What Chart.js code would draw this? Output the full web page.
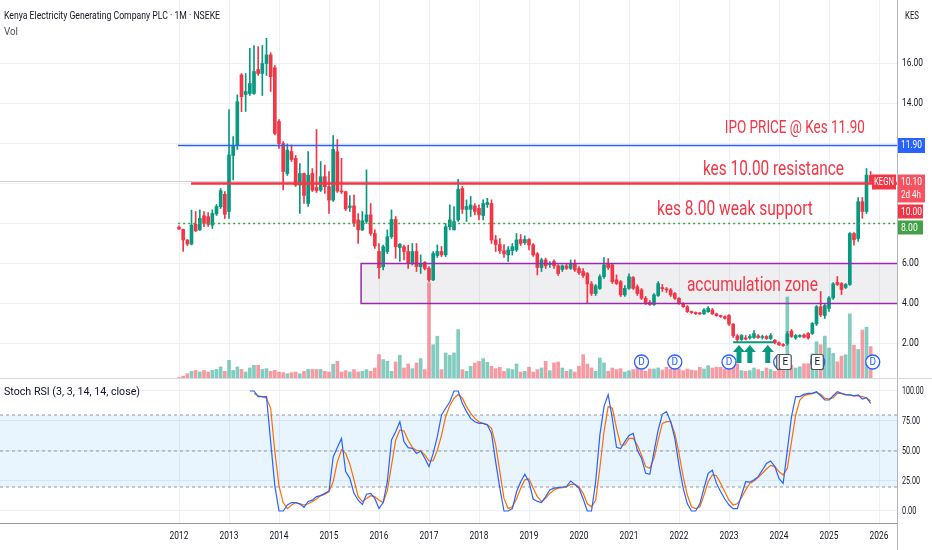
<!DOCTYPE html>
<html>
<head>
<meta charset="utf-8">
<title>KEGN 1M</title>
<script src="https://cdn.jsdelivr.net/npm/chart.js@4.4.1/dist/chart.umd.min.js"></script>
<style>
  html, body { margin: 0; padding: 0; background: #ffffff; }
  #wrap { position: relative; width: 932px; height: 550px; overflow: hidden; }
  canvas { position: absolute; left: 0; }
  #priceChart { top: 0; }
  #stochChart { top: 378px; }
</style>
</head>
<body>
<div id="wrap">
  <canvas id="priceChart" width="932" height="378"></canvas>
  <canvas id="stochChart" width="932" height="172"></canvas>
</div>
<script>
'use strict';

// monthly candles, first one is Jan 2012 (index 0), one row per year
const firstYear = 2012;
const yearTicks = [2012, 2013, 2014, 2015, 2016, 2017, 2018, 2019, 2020, 2021, 2022, 2023, 2024, 2025, 2026];

const opens = [
  7.82, 7.70, 7.17, 6.97, 7.96, 7.68, 8.39, 8.34, 7.92, 8.48, 8.84, 9.46,
  8.60, 11.40, 11.92, 15.43, 14.45, 14.50, 14.50, 15.70, 15.50, 16.00, 16.43, 15.79,
  13.10, 12.00, 10.50, 11.60, 11.26, 9.92, 10.50, 9.00, 10.50, 9.80, 9.67, 10.34,
  9.84, 9.17, 11.59, 9.62, 9.59, 8.80, 8.88, 8.18, 7.68, 8.10, 8.43, 7.50,
  6.60, 5.84, 6.60, 7.34, 8.20, 6.80, 6.84, 6.60, 6.00, 6.60, 5.84, 6.05,
  5.76, 5.18, 6.40, 6.60, 6.43, 7.84, 7.68, 8.18, 9.75, 8.70, 8.71, 8.88,
  8.76, 8.40, 8.95, 9.00, 7.18, 6.95, 6.64, 6.43, 6.64, 6.68, 7.20, 7.04,
  7.20, 6.93, 6.48, 5.80, 6.18, 5.95, 6.10, 5.88, 5.70, 5.88, 5.76, 6.00,
  5.75, 5.60, 5.50, 4.98, 4.50, 4.75, 5.34, 6.00, 5.93, 5.18, 5.09, 4.43,
  4.76, 5.30, 4.84, 4.68, 4.26, 4.05, 3.95, 4.40, 4.80, 4.72, 4.68, 4.50,
  4.26, 4.00, 3.84, 3.58, 3.52, 3.50, 3.48, 3.59, 3.68, 3.48, 3.39, 3.34,
  3.40, 2.97, 2.38, 2.20, 2.28, 2.28, 2.30, 2.38, 2.30, 2.35, 2.25, 2.17,
  2.04, 1.95, 2.00, 2.62, 2.28, 2.35, 2.42, 2.50, 2.50, 2.98, 3.84, 3.40,
  3.75, 4.28, 5.05, 5.00, 4.80, 4.95, 7.50, 7.25, 9.09, 8.60, 10.40
];
const highs = [
  7.88, 7.72, 7.20, 8.67, 8.60, 8.68, 8.60, 8.55, 8.68, 8.95, 9.75, 9.60,
  13.70, 12.34, 14.43, 15.50, 15.50, 16.76, 16.90, 16.84, 16.90, 17.26, 16.54, 15.90,
  13.20, 12.10, 11.98, 11.93, 11.40, 11.00, 10.52, 11.60, 10.75, 12.70, 11.10, 10.92,
  10.60, 12.40, 12.20, 11.26, 9.62, 9.40, 9.43, 8.50, 8.60, 10.68, 9.00, 7.68,
  7.00, 6.92, 7.68, 8.68, 8.35, 7.00, 6.92, 6.92, 7.00, 7.00, 6.43, 6.10,
  5.85, 6.60, 6.93, 6.85, 8.00, 8.93, 8.84, 10.21, 9.85, 9.18, 9.35, 9.00,
  8.93, 9.18, 9.26, 9.18, 7.40, 7.25, 6.95, 6.85, 7.00, 7.50, 7.45, 7.38,
  7.25, 7.00, 6.55, 6.27, 6.27, 6.10, 6.18, 5.95, 5.93, 6.00, 6.18, 6.18,
  5.85, 5.75, 5.55, 5.10, 4.95, 5.43, 6.30, 6.25, 6.00, 5.43, 5.15, 4.90,
  5.48, 5.35, 4.93, 4.75, 4.35, 4.15, 4.50, 5.10, 4.95, 4.80, 4.75, 4.55,
  4.30, 4.05, 3.90, 3.62, 3.58, 3.56, 3.75, 3.85, 3.75, 3.52, 3.42, 3.38,
  3.45, 3.00, 2.45, 2.45, 2.40, 2.45, 2.65, 2.45, 2.42, 2.40, 2.50, 2.20,
  2.08, 2.00, 2.60, 2.70, 2.45, 2.45, 2.48, 2.55, 3.05, 3.90, 4.60, 4.00,
  4.35, 5.05, 5.35, 5.05, 5.00, 7.55, 7.55, 9.30, 9.30, 10.75, 10.60
];
const lows = [
  7.70, 6.60, 6.90, 6.93, 7.60, 7.65, 7.84, 7.85, 7.75, 8.40, 8.75, 8.26,
  8.26, 10.18, 11.70, 13.59, 13.60, 14.40, 14.45, 15.40, 14.40, 15.40, 14.60, 12.43,
  11.75, 9.68, 10.40, 11.10, 9.85, 8.50, 9.00, 8.85, 9.60, 9.55, 9.60, 9.50,
  8.50, 9.10, 9.55, 9.50, 8.65, 8.60, 7.85, 7.00, 7.65, 8.00, 7.40, 6.75,
  5.26, 5.68, 6.50, 7.25, 6.26, 6.10, 6.18, 5.75, 5.92, 5.60, 5.50, 5.68,
  5.09, 5.14, 6.30, 6.35, 6.35, 7.68, 7.68, 8.10, 8.50, 8.10, 8.35, 8.43,
  8.18, 8.18, 8.80, 7.00, 6.60, 6.50, 6.30, 6.10, 6.42, 6.60, 6.90, 6.95,
  6.68, 6.35, 5.43, 5.60, 5.75, 5.80, 5.75, 5.40, 5.60, 5.70, 5.70, 5.60,
  5.45, 5.30, 4.04, 4.40, 4.40, 4.70, 5.25, 5.70, 5.00, 4.95, 4.35, 4.35,
  4.70, 4.70, 4.40, 4.20, 3.95, 3.90, 3.90, 4.35, 4.60, 4.55, 4.35, 4.20,
  3.95, 3.80, 3.55, 3.50, 3.45, 3.45, 3.45, 3.55, 3.45, 3.36, 3.30, 3.22,
  2.90, 2.30, 2.10, 2.15, 2.18, 2.22, 2.25, 2.25, 2.22, 2.20, 2.20, 1.98,
  1.90, 1.85, 1.92, 2.30, 2.20, 2.30, 2.28, 2.22, 2.45, 2.90, 3.35, 3.25,
  3.60, 4.20, 4.90, 4.45, 4.75, 4.90, 6.92, 7.10, 8.26, 8.50, 10.00
];
const closes = [
  7.72, 7.18, 6.97, 7.92, 7.63, 8.26, 8.00, 7.96, 8.50, 8.85, 9.64, 8.46,
  11.43, 11.90, 14.09, 14.34, 14.60, 15.00, 15.60, 15.50, 16.00, 16.43, 15.34, 12.50,
  12.00, 10.60, 11.67, 11.20, 9.92, 10.50, 9.40, 10.42, 9.67, 9.64, 10.34, 9.84,
  9.17, 11.70, 9.62, 9.58, 8.73, 8.88, 8.01, 7.68, 8.14, 8.43, 7.50, 6.88,
  5.79, 6.84, 7.34, 8.20, 6.84, 6.97, 6.60, 6.00, 6.60, 5.84, 6.00, 5.75,
  5.18, 6.50, 6.60, 6.43, 7.84, 8.18, 8.10, 9.71, 8.71, 8.85, 8.93, 8.60,
  8.43, 9.00, 9.05, 7.18, 6.95, 6.64, 6.48, 6.68, 6.84, 7.18, 7.00, 7.20,
  6.93, 6.43, 5.80, 6.18, 5.88, 6.00, 5.88, 5.50, 5.88, 5.76, 6.00, 5.68,
  5.54, 5.40, 4.98, 4.50, 4.88, 5.34, 5.93, 5.80, 5.09, 5.00, 4.43, 4.76,
  5.34, 4.76, 4.50, 4.26, 4.00, 3.95, 4.43, 5.00, 4.74, 4.68, 4.43, 4.26,
  4.00, 3.84, 3.59, 3.55, 3.50, 3.48, 3.68, 3.76, 3.48, 3.39, 3.35, 3.26,
  2.97, 2.40, 2.20, 2.40, 2.22, 2.35, 2.50, 2.30, 2.33, 2.25, 2.40, 2.04,
  1.93, 1.90, 2.48, 2.35, 2.40, 2.38, 2.32, 2.28, 3.00, 3.84, 3.43, 3.90,
  4.28, 4.98, 4.95, 4.70, 4.95, 7.50, 7.18, 9.09, 8.60, 10.42, 10.10
];
// volume, relative units (Jan 2017 spike = 100)
const volumes = [
  0.5, 2, 4.5, 7, 8, 6.3, 8, 6.3, 8, 9, 11.6, 7,
  18.6, 8, 11.6, 9, 6.3, 10.5, 13.3, 13.3, 9, 9.8, 7, 8,
  6.3, 5.6, 4.5, 5.6, 6.3, 4.5, 7, 9, 9, 9, 9, 7,
  6.3, 14.5, 17.5, 6.3, 7.7, 6.3, 8.8, 6.3, 7, 8.8, 7, 10.5,
  24.6, 19.3, 17.5, 7, 16.8, 23.9, 10.5, 14.7, 9.8, 15.8, 20.4, 8.8,
  100, 35, 43.9, 8.8, 26.3, 23.9, 26.3, 50.9, 8.8, 7, 12.3, 15.8,
  17.5, 20.4, 16.5, 12.3, 9.8, 11.3, 7, 9.8, 8.8, 14.7, 6.3, 7,
  11.3, 6.3, 8.8, 10.5, 17.5, 7.7, 15.8, 16.8, 10.5, 7, 8.8, 6.3,
  12.3, 24.5, 14.7, 10.5, 7, 21, 15.8, 7, 10.5, 8.8, 9.8, 6.3,
  7.7, 8.8, 14.7, 8.5, 7, 9.5, 9.5, 10.5, 8.4, 11.3, 9.5, 14.7,
  9.5, 7.7, 9.5, 8.4, 7.7, 11.3, 9.5, 13, 10.5, 11.3, 11.3, 9.5,
  14.7, 18.2, 14.7, 7.7, 7, 7.7, 10.5, 8.8, 7, 10.5, 8.8, 7,
  10.5, 8.8, 85, 13.5, 10.5, 11.8, 15, 15, 25.6, 38, 35, 44,
  31.5, 25.8, 17, 23, 24.4, 67.4, 34.5, 30, 50.4, 53.4, 33
];
// Stoch RSI (3, 3, 14, 14, close)  K and D lines
const stochK = [
  null, null, null, null, null, null, null, null, null, null, null, null,
  null, null, null, null, null, 100, 100, 95.3, 95.3, 95.3, 57.8, 21,
  0, 0, 5, 7, 7, 6, 3, 8, 9, 12, 12.8, 14.7,
  16.7, 45, 53, 60.5, 32.8, 27.2, 14.7, 9, 5.5, 14, 14.7, 10.5,
  2, 7, 24.4, 59.2, 66.1, 74.4, 57.8, 52.8, 52.2, 48, 50, 43.9,
  37, 48, 61.9, 80, 85.6, 91, 100, 100, 89.7, 82.8, 77.2, 74.4,
  73, 73, 71.7, 64.7, 41, 19, 0, 0, 2, 16, 24.4, 30.6,
  24.4, 10, 8, 7, 12, 17.6, 19, 19.5, 20, 20.3, 25, 22.2,
  19, 10, 0, 0, 24.4, 63, 87, 97, 77, 53, 52, 57.8,
  63, 64.7, 50.5, 44, 31.4, 30.6, 49.4, 67.5, 80.6, 82.8, 74.4, 60.5,
  38, 19, 6, 0, 0, 6, 19, 31.4, 34, 23, 16, 10,
  5, 2, 2, 13.3, 24.4, 24, 26, 28.6, 34, 39.7, 41.7, 37,
  27.2, 23, 50.5, 78.6, 95.3, 95.3, 97.2, 98, 98, 99.4, 96, 92.5,
  92.5, 96, 99.4, 98, 96.7, 96.7, 96, 96.7, 93.3, 94.4, 89.7
];
const stochD = [
  null, null, null, null, null, null, null, null, null, null, null, null,
  null, null, null, null, null, null, 98, 96, 95.3, 94, 85.6, 49.4,
  21, 7, 2, 5, 7, 6, 5, 6, 8, 10, 12.8, 14,
  16, 24.4, 41, 51, 48, 39, 26, 12, 8, 10.5, 12.8, 12,
  9, 7, 17, 38, 59, 67.5, 66.7, 59, 53, 50.5, 50, 46.7,
  41.7, 42, 50.5, 63, 78.6, 88, 94, 97, 94, 87, 81.4, 77.2,
  74.4, 73, 72, 68.9, 55, 32.8, 10.5, 2, 3.5, 10, 19, 26,
  27, 19, 12, 8, 10.5, 14.7, 17.5, 19, 19.5, 20, 22.2, 22.2,
  20.3, 14.7, 6, 3.5, 9, 35.6, 66, 87, 85.6, 69, 55, 55,
  60.5, 60.5, 55, 46.7, 37, 35.6, 44, 59, 73, 74.4, 74.4, 64.7,
  48, 28.6, 13.3, 3.5, 2, 3.5, 13.3, 24.4, 30, 29.4, 23, 16,
  9, 5, 6, 11, 17.6, 23, 25, 27.8, 31.4, 35, 38, 37,
  32.8, 30, 35.6, 57.8, 80, 92.5, 96, 97.2, 97.8, 98.9, 97.2, 94,
  93.3, 94.4, 98, 98, 97.2, 96.7, 96, 96, 95.3, 94.4, 91.7
];

const priceTicks = [2, 4, 6, 8, 10, 12, 14, 16];
const hiddenPriceTicks = [8, 10, 12];   // covered by the price labels
const stochTicks = [0, 25, 50, 75, 100];

// levels of the drawings
const ipoPrice = 11.90;
const resistanceLevel = 10.00;
const supportLevel = 8.00;
const zoneLow = 4.00;
const zoneHigh = 6.00;
const lastPrice = 10.10;
const buyLevel = 2.06;
const dividendMonths = [111, 119, 132, 144.4, 153.3, 166.5];
const earningsMonths = [144.9, 145.5, 153.2];
const buyArrowMonths = [134.4, 137, 141.3];

// ---------------------------------------------------------------------------
const FONT = "Roboto, 'DejaVu Sans', sans-serif";
const TEXT_COLOR = '#131722';
const GRID_COLOR = '#eef0f4';
const UP = '#089981';
const DOWN = '#f23645';
const VOL_UP = 'rgba(8, 153, 129, 0.5)';
const VOL_DOWN = 'rgba(242, 54, 69, 0.5)';
const AXIS_W = 35;
// month index range visible (left edge .. price axis)
const X_MIN = -42.96;
const X_MAX = 172.32;

const months = opens.map((_, i) => i);
const isUp = (i) => closes[i] >= opens[i];
const yearToMonth = (yr) => (yr - firstYear) * 12;

// where the drawings start (month index) and where their notes sit
const lineStarts = { ipo: -0.25, resistance: 2.9, support: -0.2, zone: 43.7 };
const notes = [
  { text: 'IPO PRICE @ Kes 11.90', month: 131, price: 12.53, size: 19, width: 140 },
  { text: 'kes 10.00 resistance', month: 125.75, price: 10.43, size: 21, width: 141 },
  { text: 'kes 8.00 weak support', month: 114.7, price: 8.43, size: 21, width: 156 },
  { text: 'accumulation zone', month: 121.9, price: 4.64, size: 20, width: 131 }
];

function hLine(ctx, x1, x2, y, color, width, dash) {
  ctx.save();
  ctx.strokeStyle = color;
  ctx.lineWidth = width;
  ctx.setLineDash(dash || []);
  ctx.beginPath();
  ctx.moveTo(x1, y);
  ctx.lineTo(x2, y);
  ctx.stroke();
  ctx.restore();
}

// text squeezed to a narrow width like the TradingView screenshot
function label(ctx, text, x, y, size, color, align, maxWidth) {
  ctx.save();
  ctx.font = size + 'px ' + FONT;
  ctx.fillStyle = color;
  ctx.textAlign = align || 'left';
  ctx.textBaseline = 'middle';
  if (maxWidth) ctx.fillText(text, x, y, maxWidth);
  else ctx.fillText(text, x, y);
  ctx.restore();
}

function axisLabel(ctx, text, x, y, align, perChar) {
  label(ctx, text, x, y, 11, TEXT_COLOR, align, text.length * (perChar || 4.1));
}

function roundRect(ctx, x, y, w, h, r) {
  ctx.beginPath();
  ctx.moveTo(x + r, y);
  ctx.arcTo(x + w, y, x + w, y + h, r);
  ctx.arcTo(x + w, y + h, x, y + h, r);
  ctx.arcTo(x, y + h, x, y, r);
  ctx.arcTo(x, y, x + w, y, r);
  ctx.closePath();
}

// drawings on the price pane
const priceDrawings = {
  id: 'priceDrawings',
  beforeDatasetsDraw(chart) {
    const { ctx, chartArea: a, scales: { x, y } } = chart;
    hLine(ctx, 0, a.right, y.getPixelForValue(lastPrice), 'rgba(120, 123, 134, 0.35)', 1);
    const zx = x.getPixelForValue(lineStarts.zone);
    const top = y.getPixelForValue(zoneHigh);
    const bottom = y.getPixelForValue(zoneLow);
    ctx.save();
    ctx.fillStyle = 'rgba(120, 123, 140, 0.12)';
    ctx.fillRect(zx, top, a.right - zx, bottom - top);
    ctx.restore();
  },
  afterDatasetsDraw(chart) {
    const { ctx, chartArea: a, scales: { x, y } } = chart;

    // zone border (open on the axis side)
    const zx = x.getPixelForValue(lineStarts.zone);
    const top = y.getPixelForValue(zoneHigh);
    const bottom = y.getPixelForValue(zoneLow);
    ctx.save();
    ctx.strokeStyle = '#9c27b0';
    ctx.lineWidth = 1.5;
    ctx.beginPath();
    ctx.moveTo(a.right, top);
    ctx.lineTo(zx, top);
    ctx.lineTo(zx, bottom);
    ctx.lineTo(a.right, bottom);
    ctx.stroke();
    ctx.restore();

    hLine(ctx, x.getPixelForValue(lineStarts.ipo), a.right, y.getPixelForValue(ipoPrice), '#2962ff', 1.3);
    hLine(ctx, x.getPixelForValue(lineStarts.resistance), a.right, y.getPixelForValue(resistanceLevel), DOWN, 2.5);
    hLine(ctx, x.getPixelForValue(lineStarts.support), a.right, y.getPixelForValue(supportLevel), '#43a047', 1.5, [2, 3]);

    // notes
    notes.forEach((n) => {
      ctx.save();
      ctx.font = n.size + 'px ' + FONT;
      ctx.fillStyle = DOWN;
      ctx.textAlign = 'left';
      ctx.textBaseline = 'alphabetic';
      ctx.fillText(n.text, x.getPixelForValue(n.month), y.getPixelForValue(n.price), n.width);
      ctx.restore();
    });

    // green base line and buy arrows
    hLine(ctx, x.getPixelForValue(133), x.getPixelForValue(142.8), y.getPixelForValue(buyLevel), UP, 2);
    buyArrowMonths.forEach((m) => {
      const cx = x.getPixelForValue(m);
      const tip = y.getPixelForValue(1.93);
      const base = y.getPixelForValue(1.03);
      ctx.save();
      ctx.fillStyle = UP;
      ctx.beginPath();
      ctx.moveTo(cx, tip);
      ctx.lineTo(cx + 6, tip + 7);
      ctx.lineTo(cx + 2.5, tip + 7);
      ctx.lineTo(cx + 2.5, base);
      ctx.lineTo(cx - 2.5, base);
      ctx.lineTo(cx - 2.5, tip + 7);
      ctx.lineTo(cx - 6, tip + 7);
      ctx.closePath();
      ctx.fill();
      ctx.restore();
    });

    // dividend and earnings markers
    const my = a.bottom - 16;
    dividendMonths.forEach((m) => {
      const cx = x.getPixelForValue(m);
      ctx.save();
      ctx.fillStyle = '#ffffff';
      ctx.strokeStyle = '#2962ff';
      ctx.lineWidth = 1.3;
      ctx.beginPath();
      ctx.arc(cx, my, 7, 0, Math.PI * 2);
      ctx.fill();
      ctx.stroke();
      ctx.restore();
      label(ctx, 'D', cx, my + 0.5, 10, '#2962ff', 'center');
    });
    earningsMonths.forEach((m) => {
      const cx = x.getPixelForValue(m);
      ctx.save();
      ctx.fillStyle = '#ffffff';
      ctx.strokeStyle = '#50535e';
      ctx.lineWidth = 1.2;
      roundRect(ctx, cx - 6, my - 7.5, 12, 15, 2);
      ctx.fill();
      ctx.stroke();
      ctx.restore();
      label(ctx, 'E', cx, my + 0.5, 10, TEXT_COLOR, 'center');
    });
  },
  afterDraw(chart) {
    const { ctx, chartArea: a, scales: { y } } = chart;
    const bx = a.right + 1;
    const bw = 27;

    // price axis labels
    priceTicks.filter((v) => !hiddenPriceTicks.includes(v)).forEach((v) => {
      axisLabel(ctx, v.toFixed(2), a.right + 5, y.getPixelForValue(v), 'left', 4.2);
    });

    // header
    label(ctx, 'Kenya Electricity Generating Company PLC \u00b7 1M \u00b7 NSEKE', 4, 16, 11, TEXT_COLOR, 'left', 216);
    label(ctx, 'Vol', 4, 32, 11, '#50535e', 'left', 14);
    label(ctx, 'KES', a.right + 8, 16, 11, TEXT_COLOR, 'left', 14);

    // IPO price label
    const yi = y.getPixelForValue(ipoPrice);
    ctx.fillStyle = '#2962ff';
    ctx.fillRect(bx, yi - 7.5, bw, 15);
    label(ctx, ipoPrice.toFixed(2), bx + 3, yi, 11, '#ffffff', 'left', 21);

    // last price with countdown and symbol tag
    const yl = y.getPixelForValue(lastPrice);
    ctx.fillStyle = '#f7525f';
    ctx.fillRect(bx, yl - 7, bw, 28);
    label(ctx, lastPrice.toFixed(2), bx + 3, yl + 0.5, 11, '#ffffff', 'left', 21);
    label(ctx, '2d 4h', bx + 3, yl + 14, 10, '#ffffff', 'left', 20);
    ctx.fillStyle = DOWN;
    ctx.fillRect(a.right - 25, yl - 7, 24, 15);
    label(ctx, 'KEGN', a.right - 13, yl + 0.5, 10, '#ffffff', 'center', 20);

    // level labels pushed below when they collide
    let nextTop = yl + 23;
    [
      { value: resistanceLevel, color: DOWN },
      { value: supportLevel, color: '#43a047' }
    ].forEach((l) => {
      const top = Math.max(y.getPixelForValue(l.value) - 7, nextTop);
      const txt = l.value.toFixed(2);
      ctx.fillStyle = l.color;
      ctx.fillRect(bx, top, bw - 2, 14);
      label(ctx, txt, bx + 3, top + 7.5, 11, '#ffffff', 'left', txt.length * 4.2);
      nextTop = top + 16;
    });
  }
};

const priceChart = new Chart(document.getElementById('priceChart'), {
  type: 'bar',
  data: {
    datasets: [
      {
        label: 'Body',
        data: months.map((i) => ({ x: i, y: [opens[i], closes[i]] })),
        backgroundColor: months.map((i) => (isUp(i) ? UP : DOWN)),
        barThickness: 3,
        minBarLength: 1,
        grouped: false,
        order: 1
      },
      {
        label: 'Wick',
        data: months.map((i) => ({ x: i, y: [lows[i], highs[i]] })),
        backgroundColor: months.map((i) => (isUp(i) ? UP : DOWN)),
        barThickness: 1,
        grouped: false,
        order: 2
      },
      {
        label: 'Vol',
        yAxisID: 'yVol',
        data: months.map((i) => ({ x: i, y: volumes[i] })),
        backgroundColor: months.map((i) => (isUp(i) ? VOL_UP : VOL_DOWN)),
        barThickness: 3,
        grouped: false,
        order: 3
      }
    ]
  },
  options: {
    responsive: false,
    animation: false,
    events: [],
    layout: { padding: 0 },
    plugins: { legend: { display: false }, tooltip: { enabled: false } },
    scales: {
      x: {
        type: 'linear',
        min: X_MIN,
        max: X_MAX,
        offset: false,
        grid: { color: GRID_COLOR, drawTicks: false, offset: false },
        border: { display: false },
        ticks: { display: false },
        afterBuildTicks: (scale) => { scale.ticks = yearTicks.map((yr) => ({ value: yearToMonth(yr) })); },
        afterFit: (scale) => { scale.height = 0; scale.paddingLeft = 0; scale.paddingRight = 0; }
      },
      y: {
        position: 'right',
        min: 0.275,
        max: 19.175,
        beginAtZero: false,
        grid: { color: GRID_COLOR, drawTicks: false },
        border: { display: true, color: '#b2b5be' },
        ticks: { display: false },
        afterBuildTicks: (scale) => { scale.ticks = priceTicks.map((v) => ({ value: v })); },
        afterFit: (scale) => { scale.width = AXIS_W; scale.paddingTop = 0; scale.paddingBottom = 0; }
      },
      yVol: { display: false, min: 0, max: 397 }
    }
  },
  plugins: [priceDrawings]
});

// Stoch RSI pane
const stochDrawings = {
  id: 'stochDrawings',
  beforeDatasetsDraw(chart) {
    const { ctx, chartArea: a, scales: { y } } = chart;
    const y80 = y.getPixelForValue(80);
    const y20 = y.getPixelForValue(20);
    ctx.save();
    ctx.fillStyle = 'rgba(33, 150, 243, 0.1)';
    ctx.fillRect(a.left, y80, a.right - a.left, y20 - y80);
    ctx.restore();
    [80, 50, 20].forEach((v) => hLine(ctx, a.left, a.right, y.getPixelForValue(v), '#9598a1', 1, [3, 3]));
  },
  afterDraw(chart) {
    const { ctx, chartArea: a, scales: { x, y } } = chart;
    hLine(ctx, 0, chart.width, 0.5, '#d6d9e0', 1);
    ctx.save();
    ctx.strokeStyle = '#b2b5be';
    ctx.beginPath();
    ctx.moveTo(a.right + 0.5, a.bottom);
    ctx.lineTo(a.right + 0.5, chart.height);
    ctx.stroke();
    ctx.restore();

    stochTicks.forEach((v) => axisLabel(ctx, v.toFixed(2), a.right + 5, y.getPixelForValue(v), 'left', 3.6));
    yearTicks.forEach((yr) => axisLabel(ctx, String(yr), x.getPixelForValue(yearToMonth(yr)), a.bottom + 13, 'center', 4.7));

    label(ctx, 'Stoch RSI (3, 3, 14, 14, close)', 4, 14, 11, TEXT_COLOR, 'left', 136);
  }
};

const stochChart = new Chart(document.getElementById('stochChart'), {
  type: 'line',
  data: {
    datasets: [
      {
        label: 'K',
        data: months.map((i) => ({ x: i, y: stochK[i] })),
        borderColor: '#2962ff',
        borderWidth: 1.2,
        pointRadius: 0,
        tension: 0
      },
      {
        label: 'D',
        data: months.map((i) => ({ x: i, y: stochD[i] })),
        borderColor: '#ff6d00',
        borderWidth: 1.2,
        pointRadius: 0,
        tension: 0
      }
    ]
  },
  options: {
    responsive: false,
    animation: false,
    events: [],
    layout: { padding: 0 },
    plugins: { legend: { display: false }, tooltip: { enabled: false } },
    scales: {
      x: {
        type: 'linear',
        min: X_MIN,
        max: X_MAX,
        grid: { color: GRID_COLOR, drawTicks: false },
        border: { display: true, color: '#9598a1' },
        ticks: { display: false },
        afterBuildTicks: (scale) => { scale.ticks = yearTicks.map((yr) => ({ value: yearToMonth(yr) })); },
        afterFit: (scale) => { scale.height = 27; scale.paddingLeft = 0; scale.paddingRight = 0; }
      },
      y: {
        position: 'right',
        min: -10,
        max: 110.83,
        grid: { color: GRID_COLOR, drawTicks: false },
        border: { display: true, color: '#b2b5be' },
        ticks: { display: false },
        afterBuildTicks: (scale) => { scale.ticks = stochTicks.map((v) => ({ value: v })); },
        afterFit: (scale) => { scale.width = AXIS_W; scale.paddingTop = 0; scale.paddingBottom = 0; }
      }
    }
  },
  plugins: [stochDrawings]
});
</script>
</body>
</html>
